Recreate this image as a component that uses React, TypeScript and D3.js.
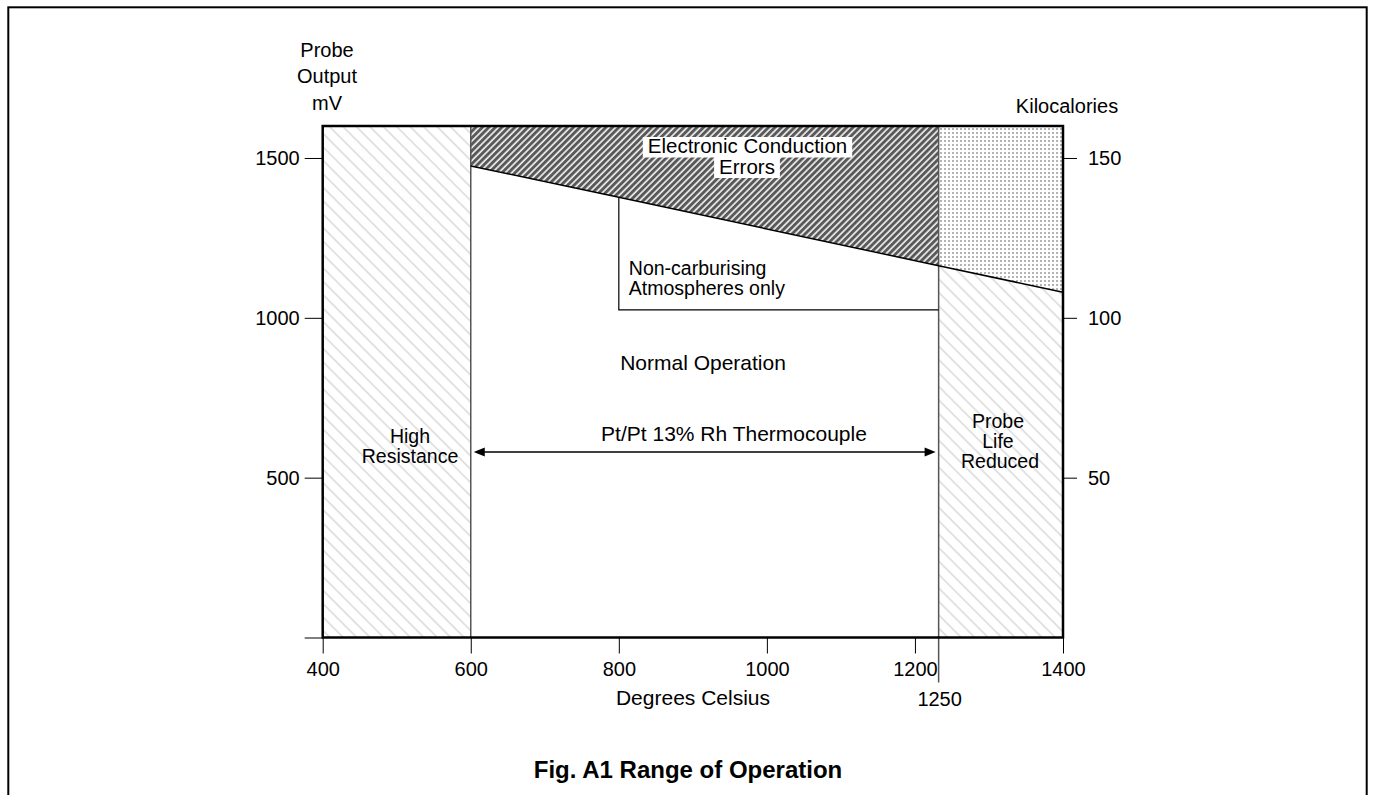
import React, { useEffect, useRef } from 'react';
import * as d3 from 'd3';

const WIDTH = 1375;
const HEIGHT = 795;
const FONT = '"Liberation Sans", Arial, Helvetica, sans-serif';
const FS = 21;
const STACK_FS = 19.5;
const TICK_FS = 20;

// axes
const xDomain = [400, 1400];
const mvDomain = [0, 1600];
const kcalDomain = [0, 160];
const xTicks = [400, 600, 800, 1000, 1200, 1400];
const mvTicks = [0, 500, 1000, 1500];
const kcalTicks = [50, 100, 150];

// zone limits (deg C) - the "1250" line is drawn a little left of true 1250
const rangeStart = 600;
const rangeEnd = 1232;
const rangeEndLabel = '1250';

// upper limit of normal operation (deg C, mV)
const errorLine: [number, number][] = [[600, 1475], [800, 1377], [1232, 1163], [1400, 1080]];
// non-carburising boundary (deg C, mV)
const nonCarbBox: [number, number][] = [[800, 1377], [800, 1025], [1232, 1025]];
const arrowLevel = 580;

export default function App() {
  const ref = useRef<SVGSVGElement>(null);

  useEffect(() => {
    const svg = d3.select(ref.current);
    svg.selectAll('*').remove();

    const x = d3.scaleLinear().domain(xDomain).range([322.7, 1063]);
    const y = d3.scaleLinear().domain(mvDomain).range([637.5, 126]);
    const yR = d3.scaleLinear().domain(kcalDomain).range([637.5, 126]);

    const defs = svg.append('defs');
    // light back-hatch
    const light = defs.append('pattern').attr('id', 'light').attr('patternUnits', 'userSpaceOnUse')
      .attr('width', 9.5).attr('height', 9.5).attr('patternTransform', 'rotate(-45)');
    light.append('rect').attr('width', 9.5).attr('height', 9.5).attr('fill', '#fff');
    light.append('line').attr('x1', 1).attr('x2', 1).attr('y1', 0).attr('y2', 9.5)
      .attr('stroke', '#dcdcdc').attr('stroke-width', 1.6);
    // dark hatch
    const dark = defs.append('pattern').attr('id', 'dark').attr('patternUnits', 'userSpaceOnUse')
      .attr('width', 4.6).attr('height', 4.6).attr('patternTransform', 'rotate(45)');
    dark.append('rect').attr('width', 4.6).attr('height', 4.6).attr('fill', '#595959');
    dark.append('line').attr('x1', 1).attr('x2', 1).attr('y1', 0).attr('y2', 4.6)
      .attr('stroke', '#fff').attr('stroke-width', 1.5);
    // dots
    const dots = defs.append('pattern').attr('id', 'dots').attr('patternUnits', 'userSpaceOnUse')
      .attr('width', 4).attr('height', 4);
    dots.append('rect').attr('width', 4).attr('height', 4).attr('fill', '#fff');
    dots.append('rect').attr('width', 2).attr('height', 2).attr('fill', '#b4b4b4');

    const top = mvDomain[1];
    const lineAt = (v: number) => errorLine.find((p) => p[0] === v)![1];
    const poly = d3.line<[number, number]>().x((d) => x(d[0])).y((d) => y(d[1]));

    // zones
    svg.append('path').attr('fill', 'url(#light)')
      .attr('d', poly([[xDomain[0], 0], [xDomain[0], top], [rangeStart, top], [rangeStart, 0]]) + 'Z');
    svg.append('path').attr('fill', 'url(#dark)')
      .attr('d', poly([[rangeStart, top], [rangeEnd, top], ...errorLine.filter((p) => p[0] <= rangeEnd).reverse()]) + 'Z');
    svg.append('path').attr('fill', 'url(#dots)')
      .attr('d', poly([[rangeEnd, top], [xDomain[1], top], [xDomain[1], lineAt(xDomain[1])], [rangeEnd, lineAt(rangeEnd)]]) + 'Z');
    svg.append('path').attr('fill', 'url(#light)')
      .attr('d', poly([[rangeEnd, lineAt(rangeEnd)], [xDomain[1], lineAt(xDomain[1])], [xDomain[1], 0], [rangeEnd, 0]]) + 'Z');

    // zone boundaries
    svg.append('line').attr('x1', x(rangeStart)).attr('x2', x(rangeStart)).attr('y1', y(top)).attr('y2', y(0))
      .attr('stroke', '#555').attr('stroke-width', 1.5);
    svg.append('line').attr('x1', x(rangeEnd)).attr('x2', x(rangeEnd)).attr('y1', y(top)).attr('y2', y(0) + 45)
      .attr('stroke', '#555').attr('stroke-width', 1.5);
    svg.append('path').attr('d', poly(errorLine)).attr('fill', 'none').attr('stroke', '#000').attr('stroke-width', 1.5);
    svg.append('path').attr('d', poly(nonCarbBox)).attr('fill', 'none').attr('stroke', '#000').attr('stroke-width', 1.2);

    // frame
    svg.append('rect').attr('x', x(xDomain[0])).attr('y', y(top))
      .attr('width', x(xDomain[1]) - x(xDomain[0])).attr('height', y(0) - y(top))
      .attr('fill', 'none').attr('stroke', '#000').attr('stroke-width', 2.5);

    // axes
    const styleAxis = (g: any) => {
      g.select('.domain').remove();
      g.selectAll('line').attr('stroke', '#000').attr('stroke-width', 1);
      g.selectAll('text').attr('font-family', FONT).attr('font-size', TICK_FS).attr('fill', '#000');
    };
    svg.append('g').attr('transform', `translate(${x(xDomain[0])},0)`)
      .call(d3.axisLeft(y).tickValues(mvTicks).tickSize(18).tickPadding(5).tickFormat((d: any) => (d === 0 ? '' : String(d))))
      .call(styleAxis);
    svg.append('g').attr('transform', `translate(${x(xDomain[1])},0)`)
      .call(d3.axisRight(yR).tickValues(kcalTicks).tickSize(14).tickPadding(11).tickFormat((d: any) => String(d)))
      .call(styleAxis);
    svg.append('g').attr('transform', `translate(0,${y(0)})`)
      .call(d3.axisBottom(x).tickValues(xTicks).tickSize(16).tickPadding(8).tickFormat((d: any) => String(d)))
      .call(styleAxis);

    // arrow
    const ay = y(arrowLevel);
    const ax1 = x(rangeStart) + 3;
    const ax2 = x(rangeEnd) - 3;
    svg.append('line').attr('x1', ax1 + 8).attr('x2', ax2 - 8).attr('y1', ay).attr('y2', ay)
      .attr('stroke', '#000').attr('stroke-width', 1.5);
    svg.append('path').attr('d', `M${ax1},${ay}L${ax1 + 11},${ay - 4.5}L${ax1 + 11},${ay + 4.5}Z`).attr('fill', '#000');
    svg.append('path').attr('d', `M${ax2},${ay}L${ax2 - 11},${ay - 4.5}L${ax2 - 11},${ay + 4.5}Z`).attr('fill', '#000');

    // text
    const text = (t: string, tx: number, ty: number, anchor = 'middle', extra: any = {}) => {
      const el = svg.append('text').attr('x', tx).attr('y', ty).attr('text-anchor', anchor)
        .attr('font-family', FONT).attr('font-size', extra.size || FS).attr('fill', '#000')
        .attr('font-weight', extra.bold ? 'bold' : 'normal').text(t);
      return el;
    };
    const boxed = (t: string, tx: number, ty: number, bt: number, bh: number) => {
      const el = text(t, tx, ty, 'middle', { size: 20.5 });
      const bb = (el.node() as SVGTextElement).getBBox();
      svg.insert('rect', () => el.node()).attr('x', bb.x - 5).attr('y', bt).attr('width', bb.width + 10)
        .attr('height', bh).attr('fill', '#fff');
    };
    const st = { size: STACK_FS };

    boxed('Electronic Conduction', 747.5, 153, 137, 20.5);
    boxed('Errors', 747, 173.5, 157, 21);
    text('Non-carburising', x(800) + 10, 275, 'start', st);
    text('Atmospheres only', x(800) + 10, 295, 'start', st);
    text('Normal Operation', 703, 370);
    text('Pt/Pt 13% Rh Thermocouple', 734, 441);
    text('High', 410, 443, 'middle', st);
    text('Resistance', 410, 463, 'middle', st);
    text('Probe', 998, 428, 'middle', st);
    text('Life', 998, 448, 'middle', st);
    text('Reduced', 1000, 468, 'middle', st);

    text('Probe', 327, 57, 'middle', { size: 20 });
    text('Output', 327, 83, 'middle', { size: 20 });
    text('mV', 327, 109.5, 'middle', { size: 20 });
    text('Kilocalories', 1067, 113, 'middle', { size: TICK_FS });
    text('Degrees Celsius', 693, 705);
    text(rangeEndLabel, x(rangeEnd) + 1, 706, 'middle', { size: TICK_FS });
    text('Fig. A1 Range of Operation', 688, 778, 'middle', { bold: true, size: 24 });

    // page border
    svg.append('rect').attr('x', 8.3).attr('y', 7.3).attr('width', 1358.4).attr('height', 820)
      .attr('fill', 'none').attr('stroke', '#000').attr('stroke-width', 2);
  }, []);

  return (
    <svg
      ref={ref}
      width={WIDTH}
      height={HEIGHT}
      style={{ position: 'absolute', left: 0, top: 0, background: '#fff' }}
    ></svg>
  );
}
